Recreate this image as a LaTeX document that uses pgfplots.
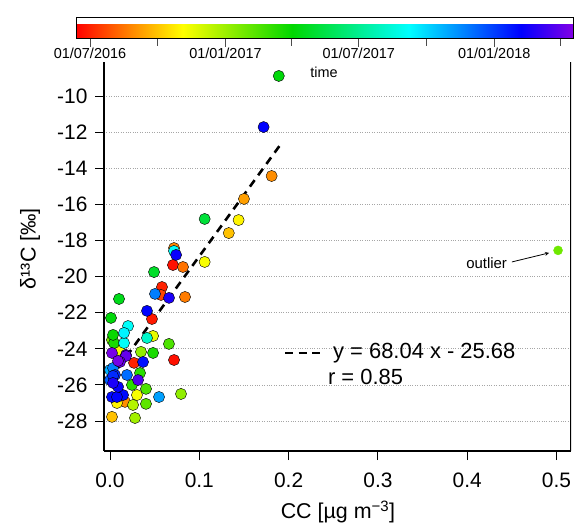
\documentclass[border=0pt]{standalone}
\usepackage{fontspec}
\setmainfont{Liberation Sans}
\usepackage{pgfplots}
\pgfplotsset{compat=1.18}
\usepackage{pgfplotstable}

\pgfplotstableread{
x y t
0.0705 -19.36 -10
0.0717 -24.62 -10
0.0470 -22.35 -5
0.0582 -20.58 0
0.0269 -24.78 0
0.0571 -21.02 20
0.0817 -19.47 45
0.0840 -21.13 50
0.0717 -18.42 55
0.1810 -14.43 60
0.0168 -26.94 60
0.1500 -15.70 70
0.1330 -17.59 90
0.0022 -27.77 90
0.1440 -16.87 120
0.0078 -27.00 120
0.1060 -19.19 130
0.0302 -26.56 130
0.0100 -24.06 130
0.0482 -23.29 140
0.0258 -27.11 170
0.0280 -27.83 180
0.0347 -24.17 190
0.0795 -26.50 190
0.0022 -23.51 200
0.0403 -27.05 220
0.0660 -23.73 230
0.0403 -26.22 230
0.0336 -25.34 250
0.0246 -26.00 250
0.0482 -24.23 260
0.0045 -23.68 260
0.0034 -23.23 270
0.1890 -8.89 280
0.0011 -22.29 280
0.0101 -21.24 290
0.0493 -19.75 300
0.1060 -16.81 310
0.0414 -23.40 400
0.0717 -18.58 430
0.0202 -22.74 430
0.0157 -23.68 430
0.0157 -23.12 440
0.0000 -25.17 480
0.0549 -26.67 490
0.0504 -20.96 510
0.0034 -25.06 510
0.0190 -25.45 520
0.0000 -25.73 530
0.0056 -25.45 560
0.0034 -25.50 560
0.0370 -24.73 575
0.0022 -26.67 580
0.0146 -26.56 580
0.1720 -11.72 584
0.0414 -21.90 584
0.0078 -26.67 584
0.0740 -18.80 590
0.0090 -26.11 590
0.0661 -21.18 600
0.0034 -25.89 600
0.0179 -24.34 620
0.0314 -25.73 630
0.0179 -24.40 640
0.0112 -24.73 640
0.0022 -24.23 650
0.0090 -24.67 650
}\maindata

\pgfplotstableread{
x y t
0.5017 -18.55 210
}\outlier

\begin{document}
\begin{tikzpicture}
\path[use as bounding box] (0bp,0bp) rectangle (576bp,526bp);
\begin{axis}[
  at={(104bp,75bp)}, anchor=south west,
  width=467bp, height=389bp, scale only axis,
  xmin=-0.00672, xmax=0.5162, ymin=-29.66, ymax=-8.117,
  axis x line*=bottom, axis y line*=left,
  axis line style={line width=1.2bp, black},
  xtick={0,0.1,0.2,0.3,0.4,0.5},
  xticklabels={0.0,0.1,0.2,0.3,0.4,0.5},
  ytick={-10,-12,-14,-16,-18,-20,-22,-24,-26,-28},
  yticklabels={-10,-12,-14,-16,-18,-20,-22,-24,-26,-28},
  tick align=outside, major tick length=9bp,
  tick style={line width=0.9bp, black},
  ymajorgrids, major grid style={dotted, gray!70, line width=0.6bp},
  tick label style={font=\fontsize{21}{24}\selectfont},
  xticklabel style={yshift=-9bp},
  yticklabel style={xshift=-4bp},
  xlabel={CC [µg m\textsuperscript{−3}]},
  ylabel={δ¹³C [‰]},
  label style={font=\fontsize{21.5}{25}\selectfont},
  xlabel style={at={(axis description cs:0.501,-0.157)}, anchor=center},
  ylabel style={at={(axis description cs:-0.1585,0.52)}, anchor=center},
  colormap={igor}{[5pt] rgb255(0pt)=(255,0,0) rgb255(115pt)=(255,140,0) rgb255(215pt)=(255,255,0) rgb255(435pt)=(0,215,0) rgb255(670pt)=(0,255,255) rgb255(895pt)=(0,0,255) rgb255(1000pt)=(130,0,230)},
  point meta min=-19, point meta max=656,
  colorbar horizontal,
  colorbar style={
    at={(parent axis.north west)}, anchor=south west,
    xshift=-28bp, yshift=32bp,
    width=497bp, height=21bp, scale only axis,
    xtick={0,184,365,549},
    xticklabels={01/07/2016,01/01/2017,01/07/2017,01/01/2018},
    minor xtick={92,274,457,639},
    xtick pos=left,
    tick align=outside, major tick length=8bp, minor tick length=7bp,
    tick style={black!70, line width=0.9bp},
    xticklabel style={font=\fontsize{14.5}{17}\selectfont, inner sep=1.5bp},
    axis line style={black, line width=0.8bp},
  },
]
\addplot[scatter, only marks, mark=*, mark size=5.6bp, scatter src=explicit,
  scatter/use mapped color={draw=black, fill=mapped color},
  mark options={line width=0.4bp}]
  table[x=x, y=y, meta=t] {\maindata};
\addplot[scatter, only marks, mark=*, mark size=4.5bp, scatter src=explicit,
  scatter/use mapped color={draw=mapped color, fill=mapped color}]
  table[x=x, y=y, meta=t] {\outlier};
\addplot[black, line width=2.6bp, dash pattern=on 8bp off 6bp] coordinates {(0,-25.68) (0.19,-12.75)};
\draw[line width=1.2bp] (rel axis cs:1,0) -- (rel axis cs:1,1);
\draw[black, line width=2.6bp, dash pattern=on 8bp off 5.5bp] (axis cs:0.196,-24.23) -- (axis cs:0.236,-24.23);
\node[anchor=west, inner sep=0pt, font=\fontsize{22}{25}\selectfont] at (axis cs:0.2497,-24.23) {y = 68.04 x - 25.68};
\node[anchor=west, inner sep=0pt, font=\fontsize{22}{25}\selectfont] at (axis cs:0.244,-25.56) {r = 0.85};
\node[anchor=west, inner sep=0pt, font=\fontsize{15}{17}\selectfont] at (axis cs:0.3987,-19.25) {outlier};
\draw[-stealth, line width=0.8bp] (axis cs:0.450,-19.19) -- (axis cs:0.4916,-18.69);
\end{axis}
\node[font=\fontsize{14.5}{17}\selectfont] at (324bp,454bp) {time};
\end{tikzpicture}
\end{document}
